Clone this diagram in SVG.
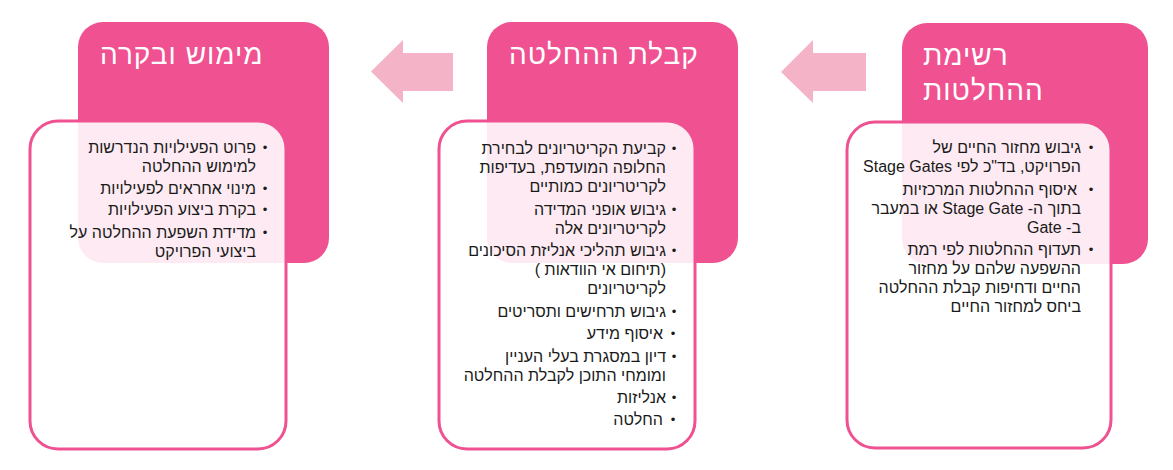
<svg xmlns="http://www.w3.org/2000/svg" width="1173" height="470" viewBox="0 0 1173 470">
<style>
.pink{fill:#EF5191}
.card{fill:#ffffff;fill-opacity:0.88;stroke:#EF5191;stroke-width:3}
.arrow{fill:#F5B3C8}
.t{font-family:"Liberation Sans","DejaVu Sans",sans-serif;font-size:16px;fill:#1a1a1a;direction:rtl}
.b{font-family:"Liberation Sans","DejaVu Sans",sans-serif;font-size:13px;fill:#1a1a1a;text-anchor:middle}
.h{font-family:"Liberation Sans","DejaVu Sans",sans-serif;font-size:28px;letter-spacing:1px;fill:#ffffff;direction:rtl;text-anchor:end}
</style>
<rect width="1173" height="470" fill="#ffffff"/>
<g id="connectors">
<polygon class="arrow" points="371,71.5 403,40 403,53 453,53 453,91 403,91 403,103"/>
<polygon class="arrow" points="781,72 813,40 813,53 866,53 866,91 813,91 813,103"/>
</g>
<g id="node-decisions-list">
<rect class="pink" x="902" y="23" width="246" height="241" rx="25"/>
<text class="h" x="923" y="65">רשימת</text>
<text class="h" x="923" y="100">ההחלטות</text>
<rect class="card" x="847" y="122" width="264" height="326" rx="28"/>
<text class="b" x="1091" y="152">•</text>
<text class="t" x="1081" y="153">גיבוש מחזור החיים של</text>
<text class="t" x="1081" y="172">הפרויקט, בד"כ לפי Stage Gates</text>
<text class="b" x="1091" y="194">•</text>
<text class="t" x="1077" y="195">איסוף ההחלטות המרכזיות</text>
<text class="t" x="1081" y="214">בתוך ה- Stage Gate או במעבר</text>
<text class="t" x="1081" y="233">ב- Gate</text>
<text class="b" x="1091" y="254">•</text>
<text class="t" x="1081" y="255">תעדוף ההחלטות לפי רמת</text>
<text class="t" x="1081" y="274">ההשפעה שלהם על מחזור</text>
<text class="t" x="1081" y="293">החיים ודחיפות קבלת ההחלטה</text>
<text class="t" x="1081" y="312">ביחס למחזור החיים</text>
</g>
<g id="node-decision-making">
<rect class="pink" x="487" y="22" width="251" height="241" rx="25"/>
<text class="h" x="509" y="64">קבלת ההחלטה</text>
<rect class="card" x="439" y="121" width="256" height="328" rx="28"/>
<text class="b" x="674" y="153">•</text>
<text class="t" x="666" y="154">קביעת הקריטריונים לבחירת</text>
<text class="t" x="666" y="173">החלופה המועדפת, בעדיפות</text>
<text class="t" x="666" y="192">לקריטריונים כמותיים</text>
<text class="b" x="674" y="214">•</text>
<text class="t" x="666" y="215">גיבוש אופני המדידה</text>
<text class="t" x="666" y="234">לקריטריונים אלה</text>
<text class="b" x="674" y="255">•</text>
<text class="t" x="666" y="256">גיבוש תהליכי אנליזת הסיכונים</text>
<text class="t" x="666" y="275">(תיחום אי הוודאות )</text>
<text class="t" x="666" y="294">לקריטריונים</text>
<text class="b" x="674" y="316">•</text>
<text class="t" x="666" y="317">גיבוש תרחישים ותסריטים</text>
<text class="b" x="673" y="338">•</text>
<text class="t" x="663" y="339">איסוף מידע</text>
<text class="b" x="674" y="361">•</text>
<text class="t" x="666" y="362">דיון במסגרת בעלי העניין</text>
<text class="t" x="666" y="381">ומומחי התוכן לקבלת ההחלטה</text>
<text class="b" x="674" y="402">•</text>
<text class="t" x="666" y="403">אנליזות</text>
<text class="b" x="673" y="424">•</text>
<text class="t" x="663" y="425">החלטה</text>
</g>
<g id="node-implementation">
<rect class="pink" x="78" y="22" width="251" height="241" rx="25"/>
<text class="h" x="100" y="64">מימוש ובקרה</text>
<rect class="card" x="30" y="121" width="256" height="328" rx="28"/>
<text class="b" x="265" y="152">•</text>
<text class="t" x="256" y="153">פרוט הפעילויות הנדרשות</text>
<text class="t" x="256" y="172">למימוש ההחלטה</text>
<text class="b" x="265" y="193">•</text>
<text class="t" x="256" y="194">מינוי אחראים לפעילויות</text>
<text class="b" x="265" y="214">•</text>
<text class="t" x="256" y="215">בקרת ביצוע הפעילויות</text>
<text class="b" x="265" y="237">•</text>
<text class="t" x="256" y="238">מדידת השפעת ההחלטה על</text>
<text class="t" x="256" y="257">ביצועי הפרויקט</text>
</g>
</svg>
